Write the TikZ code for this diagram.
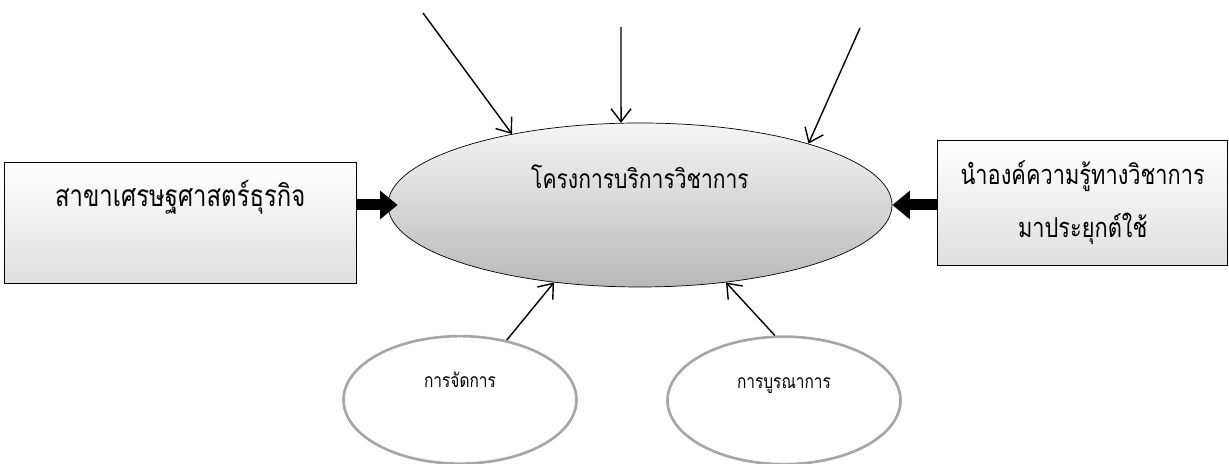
\documentclass[tikz,border=0pt]{standalone}
\usepackage{fontspec}
\newfontfamily\thaifont[Script=Thai, FakeStretch=0.8]{Loma}
\usepackage{tikz}
\usetikzlibrary{shapes.geometric, arrows.meta, positioning, calc}
\tikzstyle{arrow} = [line width=0.8pt, -{Straight Barb[length=2.6mm, width=4mm]}]
\tikzstyle{bigarrow} = [line width=0.22cm, -{Triangle[length=3.5mm, width=5.5mm]}]
\tikzstyle{infobox} = [rectangle, text centered, draw=black, thin, top color=white, bottom color=gray!25, font=\thaifont\fontsize{17}{29}\selectfont]
\tikzstyle{hub} = [ellipse, draw=black, thin, top color=gray!8, bottom color=gray!55, minimum width=10.08cm, minimum height=3.28cm, text height=0.4cm, text depth=1.06cm, font=\thaifont\fontsize{15}{18}\selectfont]
\tikzstyle{satellite} = [ellipse, draw=gray!70, line width=1.5pt, minimum width=4.66cm, minimum height=2.55cm, text height=0.3cm, text depth=0.78cm, font=\thaifont\fontsize{11}{14}\selectfont]

\begin{document}
\begin{tikzpicture}
    \useasboundingbox (0,0) rectangle (24.58,9.28);
    % วงรีกลาง
    \node (hubproj) [hub] at (12.80,5.18) {โครงการบริการวิชาการ};

    % กล่องซ้ายและขวา
    \node (econ) [infobox, minimum width=7.04cm, minimum height=2.42cm, text height=0.4cm, text depth=1.05cm, left=0.62cm of hubproj, yshift=-0.35cm] {สาขาเศรษฐศาสตร์ธุรกิจ};
    \node (apply) [infobox, font=\thaifont\fontsize{15.5}{30}\selectfont, minimum width=5.8cm, minimum height=2.5cm, align=center, right=0.9cm of hubproj, yshift=0.05cm] {นำองค์ความรู้ทางวิชาการ\\มาประยุกต์ใช้};

    % วงรีล่าง
    \node (manage) [satellite, below=0.95cm of hubproj, xshift=-3.6cm] {การจัดการ};
    \node (integ) [satellite, below=0.96cm of hubproj, xshift=2.88cm] {การบูรณาการ};

    % ปลายลูกศรด้านบน
    \coordinate (inA) at (8.46,9.02);
    \coordinate (inB) at (12.42,8.74);
    \coordinate (inC) at (17.20,8.72);

    % ลูกศร
    \draw [arrow] (inA) -- (hubproj.151);
    \draw [arrow] (inB) -- (hubproj.103);
    \draw [arrow] (inC) -- (hubproj.20);
    \draw [arrow] (manage.52) -- (hubproj.222);
    \draw [arrow] (integ.98) -- (hubproj.318);
    \draw [bigarrow, shorten >=-0.2cm] (econ.east |- hubproj.west) -- (hubproj.west);
    \draw [bigarrow] (apply.west |- hubproj.east) -- (hubproj.east);
\end{tikzpicture}
\end{document}
